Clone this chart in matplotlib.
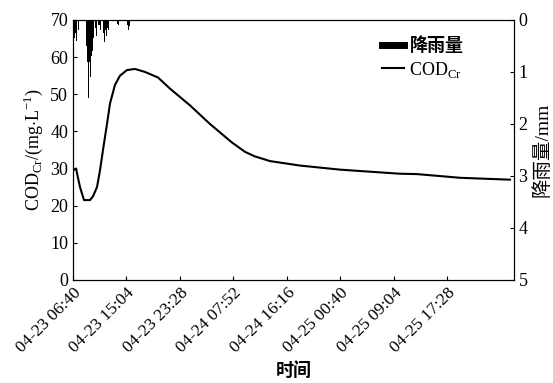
import matplotlib
matplotlib.use('Agg')
import matplotlib.pyplot as plt
from matplotlib.lines import Line2D

plt.rcParams['font.family'] = ['Liberation Serif', 'Noto Sans CJK SC']
plt.rcParams['mathtext.fontset'] = 'custom'
plt.rcParams['mathtext.rm'] = 'Liberation Serif'

# hours since 04-23 06:40
cod_hours = [0.0, 0.47, 1.1, 1.73, 2.67, 3.14, 3.77, 4.24, 4.71, 5.34, 5.81, 6.59,
             7.38, 8.48, 9.73, 11.3, 13.35, 15.23, 18.37, 21.5, 24.96, 27.0, 28.5,
             30.93, 35.64, 41.9, 51.3, 54.0, 60.8, 68.6]
cod_values = [29.5, 30.0, 25.0, 21.5, 21.5, 22.5, 25.0, 29.5, 35.0, 42.0, 47.5, 52.5,
              55.0, 56.5, 56.8, 56.0, 54.5, 51.5, 47.0, 42.0, 37.0, 34.5, 33.3,
              32.0, 30.8, 29.7, 28.6, 28.5, 27.5, 27.0]

rain_hours = [0.0, 0.16, 0.31, 0.47, 0.78, 2.04, 2.2, 2.35, 2.51, 2.67, 2.83, 2.98,
              3.14, 3.45, 3.61, 3.93, 4.08, 4.24, 4.71, 4.87, 5.02, 5.18, 5.34, 5.5,
              6.9, 7.06, 8.48, 8.64, 8.8]
rain_mm = [0.45, 0.35, 0.25, 0.4, 0.2, 0.5, 0.8, 1.5, 0.8, 1.1, 0.7, 0.6,
           0.35, 0.15, 0.3, 0.1, 0.1, 0.2, 0.25, 0.42, 0.2, 0.3, 0.15, 0.2,
           0.08, 0.1, 0.1, 0.2, 0.12]

tick_hours = [0, 8.4, 16.8, 25.2, 33.6, 42.0, 50.4, 58.8]
tick_labels = ['04-23 06:40', '04-23 15:04', '04-23 23:28', '04-24 07:52',
               '04-24 16:16', '04-25 00:40', '04-25 09:04', '04-25 17:28']

fig = plt.figure(figsize=(5.53, 3.83), dpi=100)
ax = fig.add_axes([0.132, 0.269, 0.797, 0.679])
ax2 = ax.twinx()

ax.plot(cod_hours, cod_values, color='black', lw=1.5)
ax.set_xlim(0, 69.2)
ax.set_ylim(0, 70)
ax.set_yticks(range(0, 71, 10))
ax.set_xticks(tick_hours)
ax.set_xticklabels(tick_labels, rotation=45, ha='right', rotation_mode='anchor')
ax.tick_params(direction='in', labelsize=13, length=3)
ax.tick_params(axis='x', labelsize=12.5)
ax.set_ylabel(r'COD$_{\mathrm{Cr}}$/(mg$\cdot$L$^{-1}$)', fontsize=13)
ax.set_xlabel('时间', fontsize=13, fontweight='bold', family='Noto Sans CJK SC')

ax2.bar(rain_hours, rain_mm, width=0.15, color='black', align='edge')
ax2.set_ylim(5, 0)
ax2.set_yticks(range(0, 6))
ax2.tick_params(direction='in', labelsize=13, length=3)
ax2.set_ylabel('降雨量/mm', fontsize=14)

h1 = Line2D([], [], color='black', lw=5)
h2 = Line2D([], [], color='black', lw=1.5)
leg = ax.legend([h1, h2], ['降雨量', r'COD$_{\mathrm{Cr}}$'], loc='upper left',
                bbox_to_anchor=(0.665, 1.0), frameon=False, fontsize=13,
                handlelength=1.2, handletextpad=0.3, labelspacing=0.25)
leg.get_texts()[0].set_fontweight('bold')
leg.get_texts()[0].set_family('Noto Sans CJK SC')

fig.savefig('out.png', dpi=100)
